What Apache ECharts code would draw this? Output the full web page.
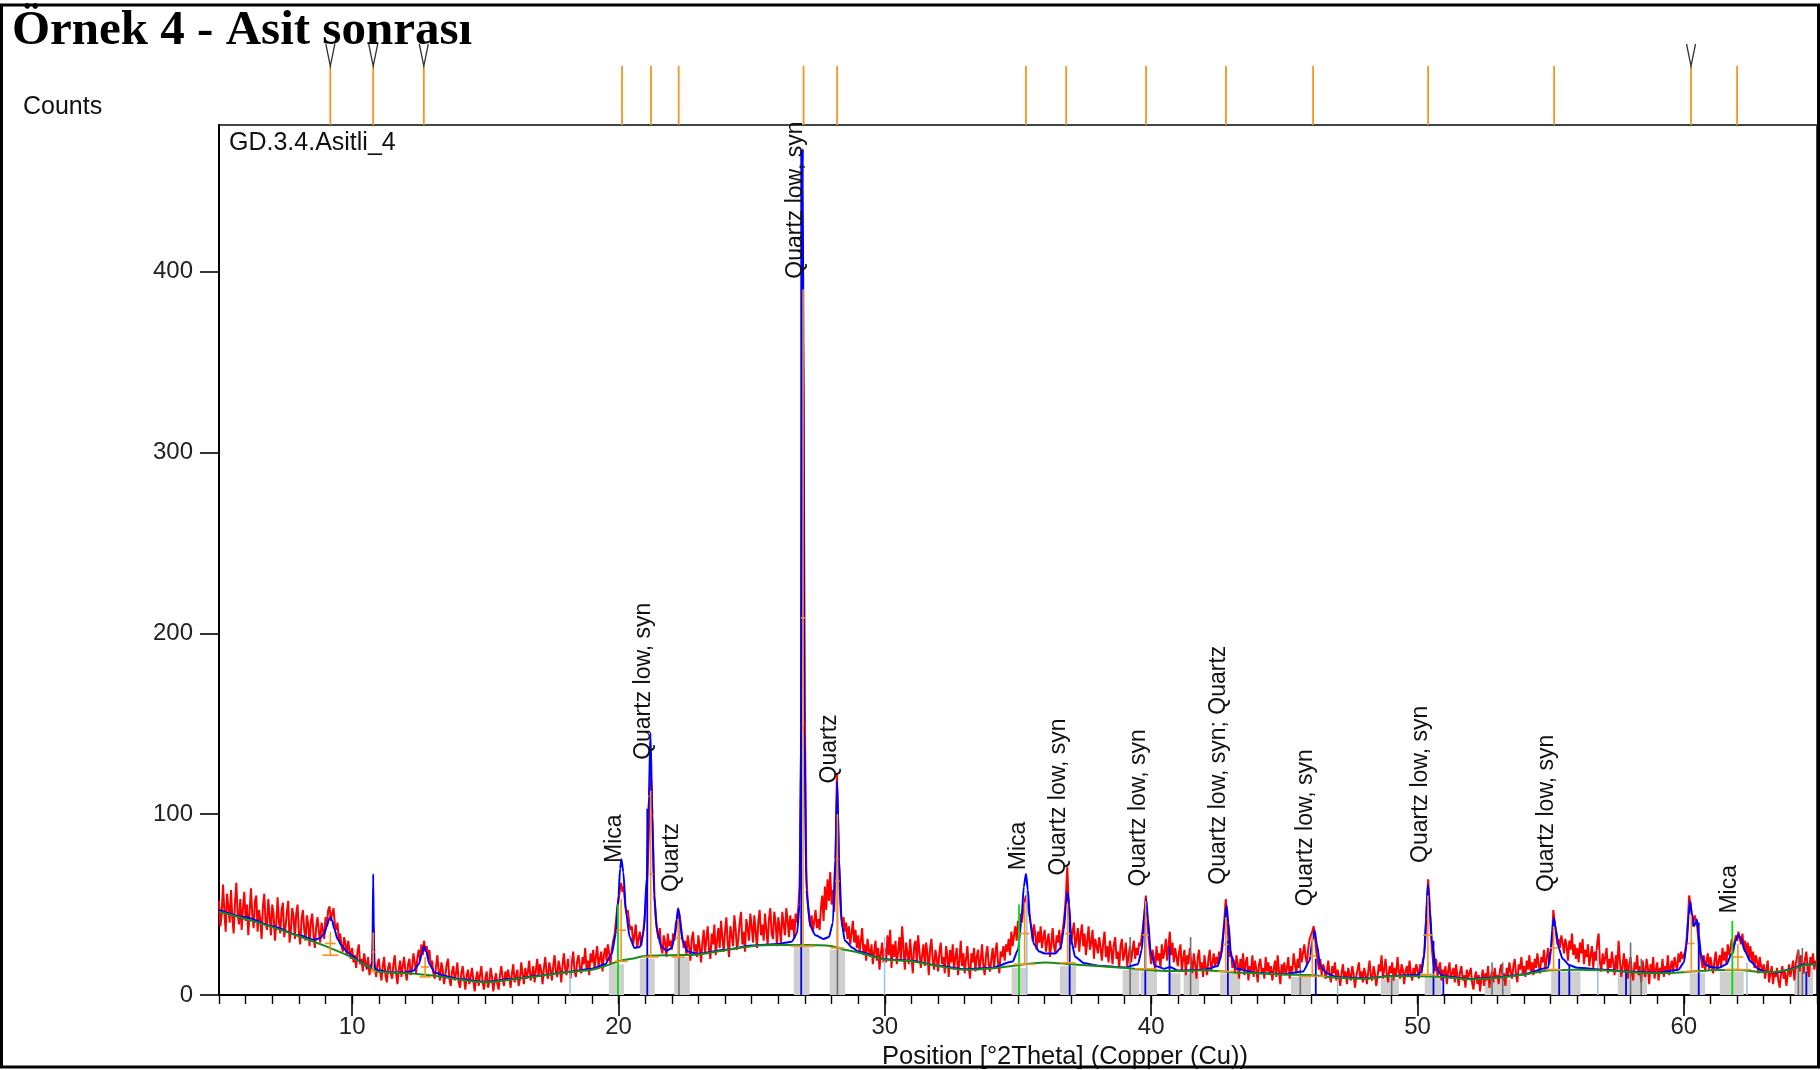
<!DOCTYPE html>
<html>
<head>
<meta charset="utf-8">
<title>Örnek 4 - Asit sonrası</title>
<script src="https://cdn.jsdelivr.net/npm/echarts@6.0.0/dist/echarts.min.js"></script>
<style>
  html, body { margin: 0; padding: 0; background: #fff; }
  #chart { width: 1820px; height: 1070px; }
</style>
</head>
<body>
<div id="chart"></div>
<script>
// ---- Scan: 2Theta from 5 to 65 degrees, 0.05 degree step ----
const scanStart = 5;
const scanStep = 0.05;

// observed counts, one array per 5 degree block
const obs05 = [
  52, 38, 44, 61, 47, 35, 56, 49, 40, 58,
  43, 34, 51, 62, 45, 39, 53, 36, 48, 57,
  41, 50, 33, 46, 59, 44, 37, 52, 55, 35,
  47, 42, 31, 49, 56, 40, 36, 53, 44, 33,
  50, 45, 30, 39, 54, 41, 34, 47, 51, 32,
  38, 46, 52, 29, 36, 48, 43, 31, 45, 50,
  34, 28, 42, 47, 36, 30, 44, 39, 27, 41,
  45, 33, 26, 38, 43, 35, 29, 40, 36, 31,
  43, 38, 47, 49, 41, 45, 48, 39, 36, 40,
  30, 34, 27, 24, 32, 28, 22, 30, 25, 20
];
const obs10 = [
  26, 18, 22, 15, 24, 28, 17, 20, 13, 23,
  18, 14, 21, 11, 16, 19, 38, 15, 10, 17,
  20, 13, 8, 16, 21, 11, 7, 15, 18, 12,
  9, 17, 22, 12, 6, 14, 19, 10, 16, 21,
  13, 8, 17, 20, 11, 15, 23, 18, 12, 21,
  25, 19, 28, 22, 30, 24, 27, 20, 25, 16,
  19, 12, 9, 16, 22, 13, 8, 18, 14, 6,
  11, 17, 20, 9, 5, 13, 16, 8, 12, 18,
  7, 4, 12, 16, 9, 3, 11, 14, 6, 10,
  15, 8, 2, 9, 13, 5, 11, 16, 7, 3
];
const obs15 = [
  9, 13, 4, 7, 15, 10, 2, 8, 12, 6,
  3, 11, 16, 9, 5, 13, 8, 14, 10, 4,
  12, 17, 7, 10, 14, 5, 9, 18, 11, 6,
  15, 9, 13, 19, 8, 11, 16, 7, 14, 20,
  10, 17, 13, 6, 15, 21, 12, 9, 18, 14,
  8, 16, 22, 13, 10, 19, 15, 7, 17, 23,
  14, 11, 20, 16, 9, 18, 24, 13, 10, 19,
  22, 15, 12, 21, 17, 26, 14, 19, 11, 23,
  18, 25, 14, 21, 27, 16, 20, 24, 13, 22,
  26, 19, 28, 23, 17, 25, 30, 33, 40, 48
];
const obs20 = [
  52, 58, 62, 57, 60, 50, 45, 47, 40, 36,
  38, 28, 33, 39, 26, 31, 35, 27, 32, 38,
  45, 55, 70, 95, 128, 112, 80, 55, 42, 36,
  31, 37, 26, 23, 33, 29, 21, 34, 27, 30,
  25, 34, 30, 36, 40, 47, 44, 37, 32, 26,
  30, 22, 33, 27, 19, 31, 35, 24, 28, 21,
  33, 26, 18, 29, 36, 23, 31, 38, 25, 20,
  34, 28, 39, 22, 30, 37, 26, 41, 32, 24,
  35, 43, 29, 21, 38, 33, 27, 44, 36, 25,
  31, 40, 46, 28, 35, 24, 42, 37, 30, 45
];
const obs25 = [
  38, 29, 44, 35, 26, 41, 47, 33, 39, 30,
  45, 36, 28, 42, 48, 34, 31, 46, 40, 27,
  43, 37, 29, 46, 39, 33, 48, 41, 32, 44,
  36, 42, 31, 45, 40, 48, 60, 120, 400, 330,
  150, 70, 52, 45, 38, 44, 35, 41, 47, 37,
  42, 36, 48, 55, 41, 60, 47, 64, 52, 68,
  50, 58, 46, 70, 122, 95, 60, 45, 38, 43,
  35, 40, 31, 38, 28, 34, 41, 29, 36, 26,
  33, 24, 30, 37, 22, 28, 19, 31, 25, 21,
  28, 17, 24, 30, 19, 26, 14, 23, 29, 18
];
const obs30 = [
  26, 18, 33, 22, 36, 15, 28, 21, 30, 17,
  24, 32, 19, 38, 26, 14, 29, 23, 17, 31,
  21, 12, 27, 30, 18, 33, 24, 15, 22, 28,
  16, 29, 23, 11, 26, 31, 19, 14, 25, 20,
  13, 24, 29, 17, 21, 12, 27, 22, 10, 25,
  18, 28, 14, 21, 26, 11, 19, 30, 16, 23,
  12, 20, 27, 15, 9, 23, 18, 26, 13, 21,
  25, 14, 19, 28, 16, 11, 22, 27, 17, 13,
  20, 26, 15, 23, 29, 18, 12, 24, 21, 27,
  19, 28, 24, 31, 22, 35, 27, 33, 38, 30
];
const obs35 = [
  41, 36, 45, 40, 48, 52, 55, 50, 46, 43,
  37, 30, 39, 33, 25, 35, 29, 38, 26, 32,
  36, 24, 30, 34, 21, 28, 37, 27, 23, 33,
  29, 36, 25, 33, 38, 45, 55, 71, 52, 38,
  28, 35, 40, 26, 31, 37, 24, 33, 39, 27,
  34, 22, 30, 38, 25, 29, 36, 20, 31, 27,
  23, 32, 26, 19, 29, 35, 21, 27, 18, 30,
  25, 17, 28, 32, 20, 24, 15, 27, 31, 19,
  23, 29, 16, 21, 27, 18, 25, 30, 20, 26,
  22, 29, 27, 33, 38, 46, 55, 44, 32, 24
];
const obs40 = [
  17, 25, 21, 13, 27, 19, 23, 15, 28, 20,
  24, 31, 19, 27, 35, 22, 29, 18, 26, 21,
  16, 24, 28, 13, 20, 25, 11, 22, 17, 26,
  19, 12, 23, 17, 9, 21, 25, 14, 18, 10,
  22, 15, 11, 20, 25, 13, 18, 23, 16, 21,
  17, 24, 20, 27, 33, 42, 53, 44, 30, 21,
  24, 15, 19, 12, 22, 17, 9, 20, 14, 23,
  11, 18, 21, 8, 16, 13, 22, 10, 19, 14,
  7, 17, 20, 12, 15, 9, 21, 13, 18, 11,
  16, 8, 14, 19, 10, 22, 13, 6, 17, 12
];
const obs45 = [
  18, 11, 15, 21, 9, 16, 13, 23, 17, 12,
  20, 15, 26, 18, 23, 28, 21, 17, 26, 31,
  30, 35, 38, 33, 24, 19, 14, 20, 11, 17,
  15, 9, 13, 19, 11, 7, 16, 12, 18, 8,
  14, 10, 5, 12, 17, 9, 13, 6, 15, 11,
  8, 16, 12, 4, 10, 14, 18, 9, 13, 7,
  15, 11, 6, 13, 19, 10, 8, 16, 12, 5,
  10, 17, 13, 22, 9, 14, 20, 11, 7, 16,
  12, 18, 8, 15, 11, 21, 13, 9, 17, 14,
  6, 13, 16, 10, 19, 12, 8, 15, 11, 17
];
const obs50 = [
  14, 9, 17, 12, 19, 22, 32, 50, 64, 52,
  35, 24, 17, 13, 20, 10, 15, 18, 8, 14,
  11, 16, 6, 13, 18, 9, 12, 15, 7, 17,
  10, 5, 13, 16, 8, 11, 4, 14, 9, 12,
  15, 7, 3, 10, 13, 6, 11, 2, 9, 14,
  5, 12, 8, 16, 4, 10, 13, 7, 15, 9,
  11, 6, 14, 17, 8, 12, 5, 15, 10, 18,
  13, 9, 16, 20, 11, 7, 17, 14, 21, 12,
  16, 10, 19, 14, 22, 13, 18, 11, 20, 15,
  23, 17, 12, 21, 18, 25, 14, 20, 26, 17
];
const obs55 = [
  24, 30, 47, 40, 34, 28, 31, 26, 33, 29,
  23, 31, 27, 19, 30, 25, 34, 22, 28, 20,
  26, 18, 29, 23, 31, 17, 25, 21, 28, 16,
  22, 27, 15, 24, 19, 29, 34, 18, 13, 23,
  17, 21, 26, 12, 20, 15, 24, 18, 11, 22,
  14, 30, 19, 10, 16, 23, 13, 20, 9, 17,
  21, 12, 8, 18, 14, 22, 11, 16, 7, 19,
  13, 10, 20, 15, 6, 17, 12, 21, 9, 14,
  18, 8, 15, 12, 20, 10, 16, 13, 22, 11,
  15, 19, 12, 21, 17, 14, 23, 18, 24, 20
];
const obs60 = [
  20, 24, 30, 40, 55, 50, 44, 38, 44, 42,
  38, 30, 24, 20, 15, 22, 13, 19, 23, 14,
  21, 16, 12, 19, 24, 14, 18, 22, 15, 26,
  19, 24, 17, 28, 22, 26, 31, 23, 29, 33,
  30, 35, 31, 28, 34, 26, 30, 23, 29, 20,
  27, 18, 24, 15, 22, 19, 12, 21, 16, 13,
  17, 9, 14, 19, 7, 12, 16, 6, 13, 10,
  15, 8, 4, 12, 16, 9, 13, 5, 11, 17,
  10, 14, 19, 8, 17, 21, 25, 13, 22, 18,
  12, 20, 24, 15, 10, 21, 17, 23, 14, 19,
  16
];

// fitted background [2Theta, counts]
const background = [
  [5, 46], [6, 42], [7, 37.5], [8, 32.5], [9, 27], [10, 20.7], [10.8, 14], [11, 12.8],
  [12, 12], [13, 10.8], [14, 8.6], [15, 7], [16, 8.6], [17, 10.4], [18, 12.4], [19, 14],
  [19.5, 16], [20, 18.7], [20.5, 20], [21, 21.5], [22, 22], [23, 22.4], [24, 24.8], [25, 27],
  [26, 27.6], [27, 27.6], [28, 27], [28.5, 25], [29, 23.5], [30, 19.6], [31, 18.7], [32, 16],
  [33, 14], [34, 14.7], [35, 16.5], [36, 18], [37, 17], [38, 16], [39, 15], [40, 13.7],
  [41, 13.2], [42, 13.7], [43, 12.6], [44, 12], [45, 11.3], [46, 11], [47, 9.5], [48, 9],
  [49, 10.4], [50, 10.4], [51, 10], [52, 8.6], [53, 9.5], [54, 11.3], [55, 13.7], [56, 14],
  [57, 13.7], [58, 12.6], [59, 12], [60, 12.6], [61, 13.7], [62, 14], [63, 12.6], [64, 14],
  [64.5, 16.5], [65, 17]
];

// calculated profile (background + fitted peaks) [2Theta, counts]
const calcProfile = [
  [5, 47], [6, 43], [7, 38], [8, 33], [8.6, 30.5], [8.8, 31.5], [8.95, 34], [9.05, 38], [9.12, 41.5],
  [9.18, 43], [9.25, 41], [9.33, 36.5], [9.45, 31], [9.6, 27.5], [9.8, 24], [10, 21.5], [10.3, 18.5],
  [10.6, 15.5], [10.72, 15], [10.76, 19], [10.79, 67], [10.82, 19], [10.86, 14.5], [11, 13.5],
  [11.5, 12.5], [12, 12.5], [12.3, 13.5], [12.5, 17], [12.62, 23], [12.7, 27], [12.78, 24],
  [12.9, 17], [13.1, 12.5], [13.5, 10.5], [14, 8.8], [15, 7.2], [16, 8.8], [17, 10.6], [18, 12.6],
  [19, 14.5], [19.5, 17], [19.75, 23], [19.9, 34], [20.0, 55], [20.06, 70], [20.11, 75], [20.18, 68],
  [20.28, 46], [20.42, 32], [20.6, 26], [20.8, 26.5], [20.95, 35], [21.06, 65], [21.14, 110],
  [21.2, 145], [21.27, 100], [21.34, 55], [21.45, 35], [21.6, 27], [21.8, 24.5], [22.0, 26],
  [22.1, 32], [22.18, 42], [22.24, 48], [22.3, 42], [22.4, 30], [22.6, 24], [23, 22.8], [24, 25],
  [25, 27.3], [26, 28.2], [26.5, 29.5], [26.7, 34], [26.8, 50], [26.86, 150], [26.92, 468],
  [26.98, 150], [27.05, 58], [27.2, 38], [27.4, 33], [27.7, 31], [27.9, 32], [28.05, 40],
  [28.14, 75], [28.21, 118], [28.28, 75], [28.38, 40], [28.5, 30], [28.8, 26], [29, 24],
  [30, 19.8], [31, 18.9], [32, 16.2], [33, 14.2], [34, 15], [34.8, 18.5], [35.0, 25], [35.12, 40],
  [35.22, 60], [35.3, 67], [35.37, 58], [35.46, 40], [35.6, 28], [35.8, 24], [36.0, 23], [36.4, 23],
  [36.6, 26], [36.72, 36], [36.8, 50], [36.86, 57], [36.92, 50], [37.0, 30], [37.15, 21],
  [37.5, 17.5], [38, 16.2], [39, 15.2], [39.5, 17], [39.65, 25], [39.74, 45], [39.81, 53],
  [39.88, 42], [39.98, 24], [40.15, 16], [40.5, 14.5], [40.7, 15.5], [41, 13.6], [42, 13.9],
  [42.5, 16], [42.65, 23], [42.75, 40], [42.83, 49.5], [42.9, 40], [43.0, 22], [43.2, 14.5],
  [44, 12.2], [45, 11.5], [45.7, 13], [45.95, 19], [46.05, 30], [46.14, 35.5], [46.22, 28],
  [46.35, 16], [46.6, 12], [47, 9.8], [48, 9.2], [49, 10.5], [50, 11], [50.15, 13], [50.25, 22],
  [50.32, 42], [50.39, 61], [50.46, 48], [50.55, 28], [50.7, 15], [50.9, 11], [51, 10.3],
  [52, 8.8], [53, 9.7], [54, 11.5], [54.9, 15], [55.0, 24], [55.06, 36], [55.12, 42.7], [55.2, 36],
  [55.3, 26], [55.45, 20], [55.7, 16.5], [56, 15], [57, 14], [58, 12.8], [59, 12.3], [59.8, 14],
  [60.0, 18], [60.1, 27], [60.18, 44], [60.24, 51.7], [60.3, 45], [60.38, 38], [60.45, 40],
  [60.5, 41.5], [60.56, 33], [60.65, 22], [60.8, 17], [61.0, 15.5], [61.3, 15], [61.6, 17],
  [61.8, 23], [61.95, 30], [62.05, 33.5], [62.15, 31], [62.3, 24], [62.5, 18.5], [62.8, 14.5],
  [63, 13], [63.5, 12.5], [64, 14.2], [64.5, 16.8], [65, 17.2]
];

// peak list: position, base level, top level, tick half width, base half span
const peakPos   = [9.18, 10.79, 12.74, 20.10, 21.21, 22.24, 26.93, 28.22, 35.25, 36.86, 39.79, 42.80, 46.05, 50.39, 55.11, 60.28, 62.03];
const peakBase  = [22, 13, 10, 18.6, 21, 21, 27, 26, 17, 17.8, 14.5, 13, 10.3, 11.3, 14, 13, 14];
const peakTop   = [35, 34.5, 21, 53, 113, 42, 390, 100, 51, 50, 52, 43, 33, 55, 38, 44, 28];
const peakTickW = [0.2, 0.05, 0.15, 0.18, 0.1, 0.1, 0.08, 0.08, 0.18, 0.1, 0.12, 0.1, 0.15, 0.18, 0.15, 0.12, 0.2];
const peakSpan  = [0.3, 0.1, 0.22, 0.25, 0.3, 0.25, 0.45, 0.25, 0.4, 0.3, 0.4, 0.3, 0.5, 0.28, 0.3, 0.3, 0.5];

// peak markers in the strip above the plot
const stripMarks = [9.18, 10.79, 12.69, 20.13, 21.22, 22.26, 26.95, 28.21, 35.30, 36.81, 39.81, 42.81, 46.08, 50.40, 55.13, 60.27, 62.0];
const stripV = [9.18, 10.79, 12.69, 60.27];

// phase identification labels
const labelPos  = [20.13, 21.22, 22.26, 26.93, 28.21, 35.30, 36.81, 39.81, 42.81, 46.08, 50.40, 55.13, 62.0];
const labelBase = [73, 130, 57, 396, 117, 69, 66, 60, 61, 49, 73, 57, 45];
const labelText = ['Mica', 'Quartz low, syn', 'Quartz', 'Quartz low, syn', 'Quartz', 'Mica',
  'Quartz low, syn', 'Quartz low, syn', 'Quartz low, syn; Quartz', 'Quartz low, syn',
  'Quartz low, syn', 'Quartz low, syn', 'Mica'];

// peak ranges shaded at the bottom: [from, to, height]
const peakRanges = [
  [19.64, 20.21, 17], [20.80, 21.36, 20], [22.09, 22.68, 21], [26.58, 27.17, 27], [27.93, 28.51, 25],
  [34.76, 35.31, 15], [36.57, 37.18, 16], [38.93, 39.55, 14], [39.60, 40.22, 13], [40.65, 41.10, 12],
  [41.22, 41.80, 12], [42.59, 43.34, 12], [45.25, 46.00, 10], [48.62, 49.30, 9], [50.27, 50.90, 10],
  [52.52, 53.50, 8.5], [55.02, 56.12, 13], [57.52, 58.62, 12], [60.22, 60.80, 12], [61.35, 62.25, 13],
  [64.15, 64.85, 15]
];

// reference pattern sticks
const quartzRefPos = [21.08, 26.86, 36.94, 39.78, 40.69, 42.88, 46.18, 50.60, 50.97, 55.32, 55.70, 57.83, 60.56, 64.60];
const quartzRefInt = [103, 467, 40, 40, 27, 30, 20, 30, 11, 20, 17, 13, 40, 13];
const quartz2RefPos = [22.27, 28.22, 39.21, 41.48, 45.60, 49.03, 52.80, 53.20, 58.00, 58.40, 64.30, 64.45];
const quartz2RefInt = [44, 90, 32, 32, 19, 11, 18, 18, 29, 20, 25, 26];
const micaRefPos = [19.98, 35.04, 61.82];
const micaRefInt = [50, 50, 41];
const otherRefPos = [18.18, 29.99, 35.33, 47.00, 56.77, 62.37];
const otherRefInt = [22, 32, 58, 8, 25, 18];

// axis ticks
const xMajorTicks = [10, 20, 30, 40, 50, 60];
const xMinorTicks = [5, 6, 7, 8, 9, 10, 11, 12, 13, 14, 15, 16, 17, 18, 19, 20, 21, 22, 23, 24, 25,
  26, 27, 28, 29, 30, 31, 32, 33, 34, 35, 36, 37, 38, 39, 40, 41, 42, 43, 44, 45, 46, 47, 48, 49, 50,
  51, 52, 53, 54, 55, 56, 57, 58, 59, 60, 61, 62, 63, 64, 65];
const yTicks = [0, 100, 200, 300, 400];

// ---- build ----
const observed = [].concat(obs05, obs10, obs15, obs20, obs25, obs30, obs35, obs40, obs45, obs50, obs55, obs60);
const observedData = observed.map((v, i) => [+(scanStart + i * scanStep).toFixed(2), v]);

const SANS = '"Liberation Sans", Arial, sans-serif';
const PLOT = { left: 219, top: 125, width: 1598, height: 870 };

function stickSeries(pos, ints, color, width, z) {
  return {
    type: 'custom', xAxisIndex: 0, yAxisIndex: 0, z: z, silent: true, clip: true,
    data: pos.map((p, i) => [p, ints[i]]),
    renderItem: (params, api) => {
      const a = api.coord([api.value(0), 0]);
      const b = api.coord([api.value(0), api.value(1)]);
      return { type: 'line', shape: { x1: a[0], y1: a[1], x2: b[0], y2: b[1] },
        style: { stroke: color, lineWidth: width } };
    }
  };
}

const chart = echarts.init(document.getElementById('chart'), null, { renderer: 'canvas' });

chart.setOption({
  animation: false,
  backgroundColor: '#ffffff',
  grid: [
    { left: PLOT.left, top: PLOT.top, width: PLOT.width, height: PLOT.height, show: true,
      borderColor: '#444', borderWidth: 2, backgroundColor: 'transparent' },
    { left: PLOT.left, top: 44, width: PLOT.width, height: 81 },
    { left: PLOT.left, top: PLOT.top, width: PLOT.width, height: PLOT.height }
  ],
  xAxis: [
    { gridIndex: 0, type: 'value', min: 5, max: 65,
      axisLine: { show: true, lineStyle: { color: '#000', width: 2 } },
      axisTick: { show: true, customValues: xMajorTicks, length: 21, lineStyle: { color: '#000', width: 1.6 } },
      axisLabel: { show: true, customValues: xMajorTicks, margin: 20, fontSize: 24, fontFamily: SANS, color: '#222' },
      splitLine: { show: false } },
    { gridIndex: 1, type: 'value', min: 5, max: 65, show: false },
    { gridIndex: 2, type: 'value', min: 5, max: 65,
      axisLine: { show: false },
      axisTick: { show: true, customValues: xMinorTicks, length: 9, lineStyle: { color: '#000', width: 1.4 } },
      axisLabel: { show: false }, splitLine: { show: false } }
  ],
  yAxis: [
    { gridIndex: 0, type: 'value', min: 0, max: 481,
      axisLine: { show: true, lineStyle: { color: '#000', width: 2 } },
      axisTick: { show: true, customValues: yTicks, length: 19, lineStyle: { color: '#000', width: 1.6 } },
      axisLabel: { show: true, customValues: yTicks, margin: 26, fontSize: 24, fontFamily: SANS, color: '#222' },
      splitLine: { show: false } },
    { gridIndex: 1, type: 'value', min: 0, max: 1, show: false },
    { gridIndex: 2, type: 'value', min: 0, max: 481, show: false }
  ],
  graphic: [
    { type: 'text', x: 12, y: 31, z: 50,
      style: { text: 'Örnek 4 - Asit sonrası', font: 'bold 49px "Liberation Serif", "Times New Roman", serif',
        fill: '#000', verticalAlign: 'middle' } },
    { type: 'text', x: 23, y: 107, z: 50,
      style: { text: 'Counts', font: '25px ' + SANS, fill: '#111', verticalAlign: 'middle' } },
    { type: 'text', x: 229, y: 143, z: 50,
      style: { text: 'GD.3.4.Asitli_4', font: '25px ' + SANS, fill: '#111', verticalAlign: 'middle' } },
    { type: 'text', x: 1065, y: 1057, z: 50,
      style: { text: 'Position [°2Theta] (Copper (Cu))', font: '25.5px ' + SANS, fill: '#111',
        align: 'center', verticalAlign: 'middle' } },
    { type: 'rect', z: 100, silent: true,
      shape: { x: 1.5, y: 5, width: 1817, height: 1062 },
      style: { fill: 'none', stroke: '#000', lineWidth: 3 } }
  ],
  series: [
    // shaded peak ranges
    { type: 'custom', xAxisIndex: 0, yAxisIndex: 0, z: 1, silent: true, clip: true,
      data: peakRanges,
      renderItem: (params, api) => {
        const p0 = api.coord([api.value(0), api.value(2)]);
        const p1 = api.coord([api.value(1), 0]);
        return { type: 'rect', shape: { x: p0[0], y: p0[1], width: p1[0] - p0[0], height: p1[1] - p0[1] },
          style: { fill: '#cfcfcf' } };
      } },
    // observed scan
    { type: 'line', xAxisIndex: 0, yAxisIndex: 0, z: 2, data: observedData,
      showSymbol: false, symbol: 'none', sampling: 'none',
      lineStyle: { color: '#ff0000', width: 2, join: 'miter', miterLimit: 3 }, silent: true },
    stickSeries(quartz2RefPos, quartz2RefInt, '#6e6e6e', 1.6, 3),
    stickSeries(otherRefPos, otherRefInt, '#9fc3ec', 1.6, 3),
    // calculated profile
    { type: 'line', xAxisIndex: 0, yAxisIndex: 0, z: 4, data: calcProfile,
      showSymbol: false, symbol: 'none', smooth: 0.25, smoothMonotone: 'x',
      lineStyle: { color: '#0000ff', width: 2 }, silent: true },
    stickSeries(quartzRefPos, quartzRefInt, '#0000ee', 1.8, 5),
    // background
    { type: 'line', xAxisIndex: 0, yAxisIndex: 0, z: 6, data: background,
      showSymbol: false, symbol: 'none', smooth: 0.3,
      lineStyle: { color: '#1a8a1a', width: 2 }, silent: true },
    stickSeries(micaRefPos, micaRefInt, '#00dd00', 1.8, 6),
    // peak markers (position, half-height tick, base)
    { type: 'custom', xAxisIndex: 0, yAxisIndex: 0, z: 7, silent: true, clip: true,
      data: peakPos.map((p, i) => [p, peakBase[i], peakTop[i], peakTickW[i], peakSpan[i]]),
      renderItem: (params, api) => {
        const x = api.value(0), b = api.value(1), t = api.value(2), w = api.value(3), s = api.value(4);
        const m = (b + t) / 2;
        const v0 = api.coord([x, b]), v1 = api.coord([x, t]);
        const h0 = api.coord([x - w, m]), h1 = api.coord([x + w, m]);
        const b0 = api.coord([x - s, b]), b1 = api.coord([x + s, b]);
        const st = { stroke: '#f7941d', lineWidth: 1.6 };
        return { type: 'group', children: [
          { type: 'line', shape: { x1: v0[0], y1: v0[1], x2: v1[0], y2: v1[1] }, style: st },
          { type: 'line', shape: { x1: h0[0], y1: h0[1], x2: h1[0], y2: h1[1] }, style: st },
          { type: 'line', shape: { x1: b0[0], y1: b0[1], x2: b1[0], y2: b1[1] }, style: st }
        ] };
      } },
    // phase labels, rotated to read upwards from the peak
    { type: 'custom', xAxisIndex: 0, yAxisIndex: 0, z: 9, silent: true, clip: false,
      data: labelPos.map((p, i) => [p, labelBase[i], i]),
      renderItem: (params, api) => {
        const c = api.coord([api.value(0), api.value(1)]);
        return { type: 'text', x: c[0] + 4, y: c[1], rotation: Math.PI / 2,
          style: { text: labelText[api.value(2)], font: '23px ' + SANS, fill: '#111',
            align: 'left', verticalAlign: 'bottom' } };
      } },
    // strip above the plot: peak positions
    { type: 'custom', xAxisIndex: 1, yAxisIndex: 1, z: 5, silent: true,
      data: stripMarks.map(p => [p]),
      renderItem: (params, api) => {
        const a = api.coord([api.value(0), 0]);
        const b = api.coord([api.value(0), 0.728]);
        return { type: 'line', shape: { x1: a[0], y1: a[1], x2: b[0], y2: b[1] },
          style: { stroke: '#f7941d', lineWidth: 1.8 } };
      } },
    { type: 'custom', xAxisIndex: 1, yAxisIndex: 1, z: 5, silent: true,
      data: stripV.map(p => [p]),
      renderItem: (params, api) => {
        const a = api.coord([api.value(0), 0.728]);
        const b = api.coord([api.value(0), 1]);
        return { type: 'polyline', shape: { points: [[a[0] - 4.5, b[1]], [a[0], a[1]], [a[0] + 4.5, b[1]]] },
          style: { stroke: '#333', lineWidth: 1.3, fill: 'none' } };
      } }
  ]
});
</script>
</body>
</html>
